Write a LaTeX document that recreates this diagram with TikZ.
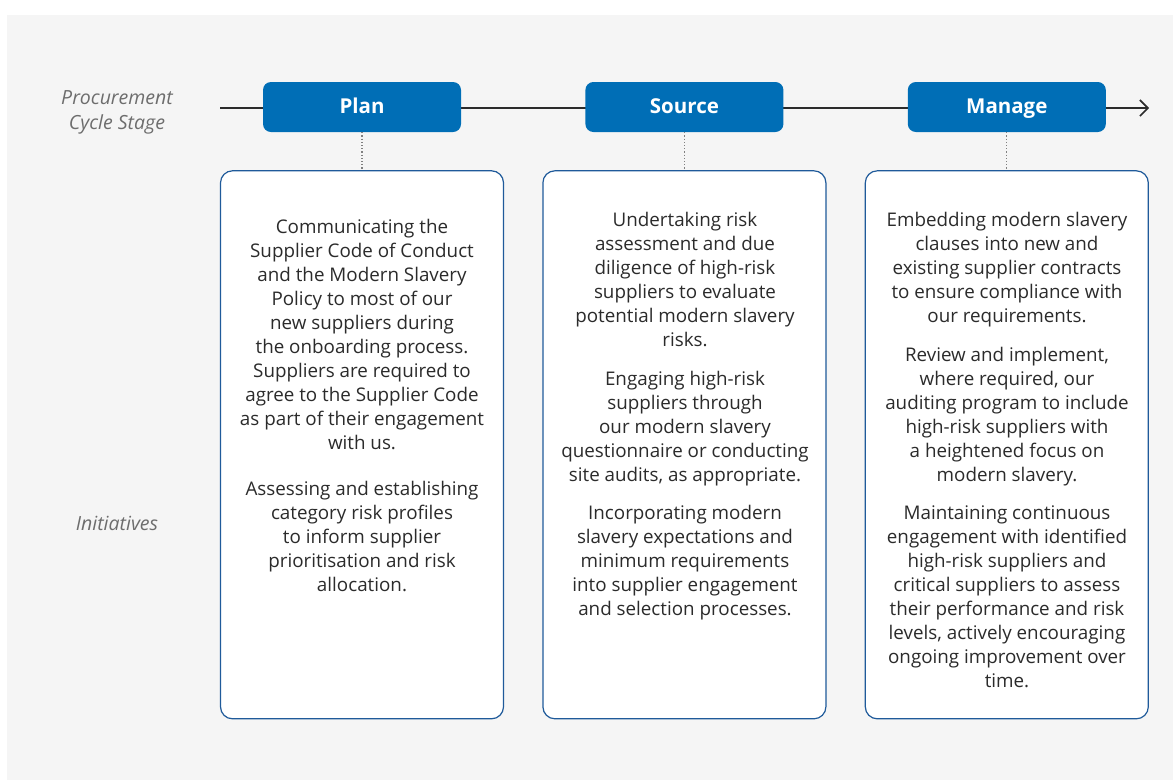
\documentclass[tikz,border=0pt]{standalone}
\usepackage{fontspec}
\setmainfont{Open Sans}
\usetikzlibrary{positioning,arrows.meta}
\definecolor{stageblue}{HTML}{006EB6}
\definecolor{cardline}{HTML}{1F5A9A}
\definecolor{panelgray}{HTML}{F5F5F5}
\definecolor{bodytext}{HTML}{2B2B2B}
\definecolor{lbltext}{HTML}{6D6D6D}

\begin{document}
\begin{tikzpicture}
[x=1pt,y=-1pt,
 stage/.style={fill=stageblue,rounded corners=8pt,minimum width=198pt,minimum height=50pt,
   text height=15pt,text depth=3pt,text=white,font=\fontsize{20.5}{22}\selectfont\bfseries},
 card/.style={draw=cardline,line width=1.2pt,fill=white,rounded corners=12pt,
   minimum width=283pt,minimum height=548pt},
 body/.style={align=center,inner sep=0pt,text=bodytext,font=\fontsize{18.8}{24}\selectfont},
 lbl/.style={align=center,text=lbltext,font=\fontsize{19.5}{25}\selectfont\itshape}]
\useasboundingbox (0,0) rectangle (1173,780);
\fill[panelgray] (7,15) rectangle (1173,780);
% stage boxes on the cycle line
\coordinate (start) at (220,108); \coordinate (finish) at (1149,108);
\draw[line width=1.8pt,bodytext,-{Straight Barb[length=8pt,width=16pt,line width=1.6pt]}] (start) -- (finish);
\node[stage](plan) at (362,107){Plan};
\node[stage, right=124pt of plan](source){Source};
\node[stage, right=124pt of source](manage){Manage};
% initiative cards
\node[card, below=38pt of plan](plancard){};
\node[card, below=38pt of source](sourcecard){};
\node[card, below=38pt of manage](managecard){};
\foreach \s in {plan,source,manage}
  \draw[gray,dotted,line width=1.2pt] (\s.south) -- (\s card.north);
% row labels
\node[lbl](stagelbl) at (117,112){Procurement\\Cycle Stage};
\node[lbl](initlbl) at (117,523){Initiatives};
% card texts
\node[body,anchor=north](plantext) at (362,219){Communicating the\\Supplier Code of Conduct\\and the Modern Slavery\\Policy to most of our\\new suppliers during\\the onboarding process.\\Suppliers are required to\\agree to the Supplier Code\\as part of their engagement\\with us.\\[22pt]Assessing and establishing\\category risk profiles\\to inform supplier\\prioritisation and risk\\allocation.};
\node[body,anchor=north](sourcetext) at (685,212){Undertaking risk\\assessment and due\\diligence of high-risk\\suppliers to evaluate\\potential modern slavery\\risks.\\[15pt]Engaging high-risk\\suppliers through\\our modern slavery\\questionnaire or conducting\\site audits, as appropriate.\\[14pt]Incorporating modern\\slavery expectations and\\minimum requirements\\into supplier engagement\\and selection processes.};
\node[body,anchor=north](managetext) at (1007,212){Embedding modern slavery\\clauses into new and\\existing supplier contracts\\to ensure compliance with\\our requirements.\\[15pt]Review and implement,\\where required, our\\auditing program to include\\high-risk suppliers with\\a heightened focus on\\modern slavery.\\[14pt]Maintaining continuous\\engagement with identified\\high-risk suppliers and\\critical suppliers to assess\\their performance and risk\\levels, actively encouraging\\ongoing improvement over\\time.};
\end{tikzpicture}
\end{document}
